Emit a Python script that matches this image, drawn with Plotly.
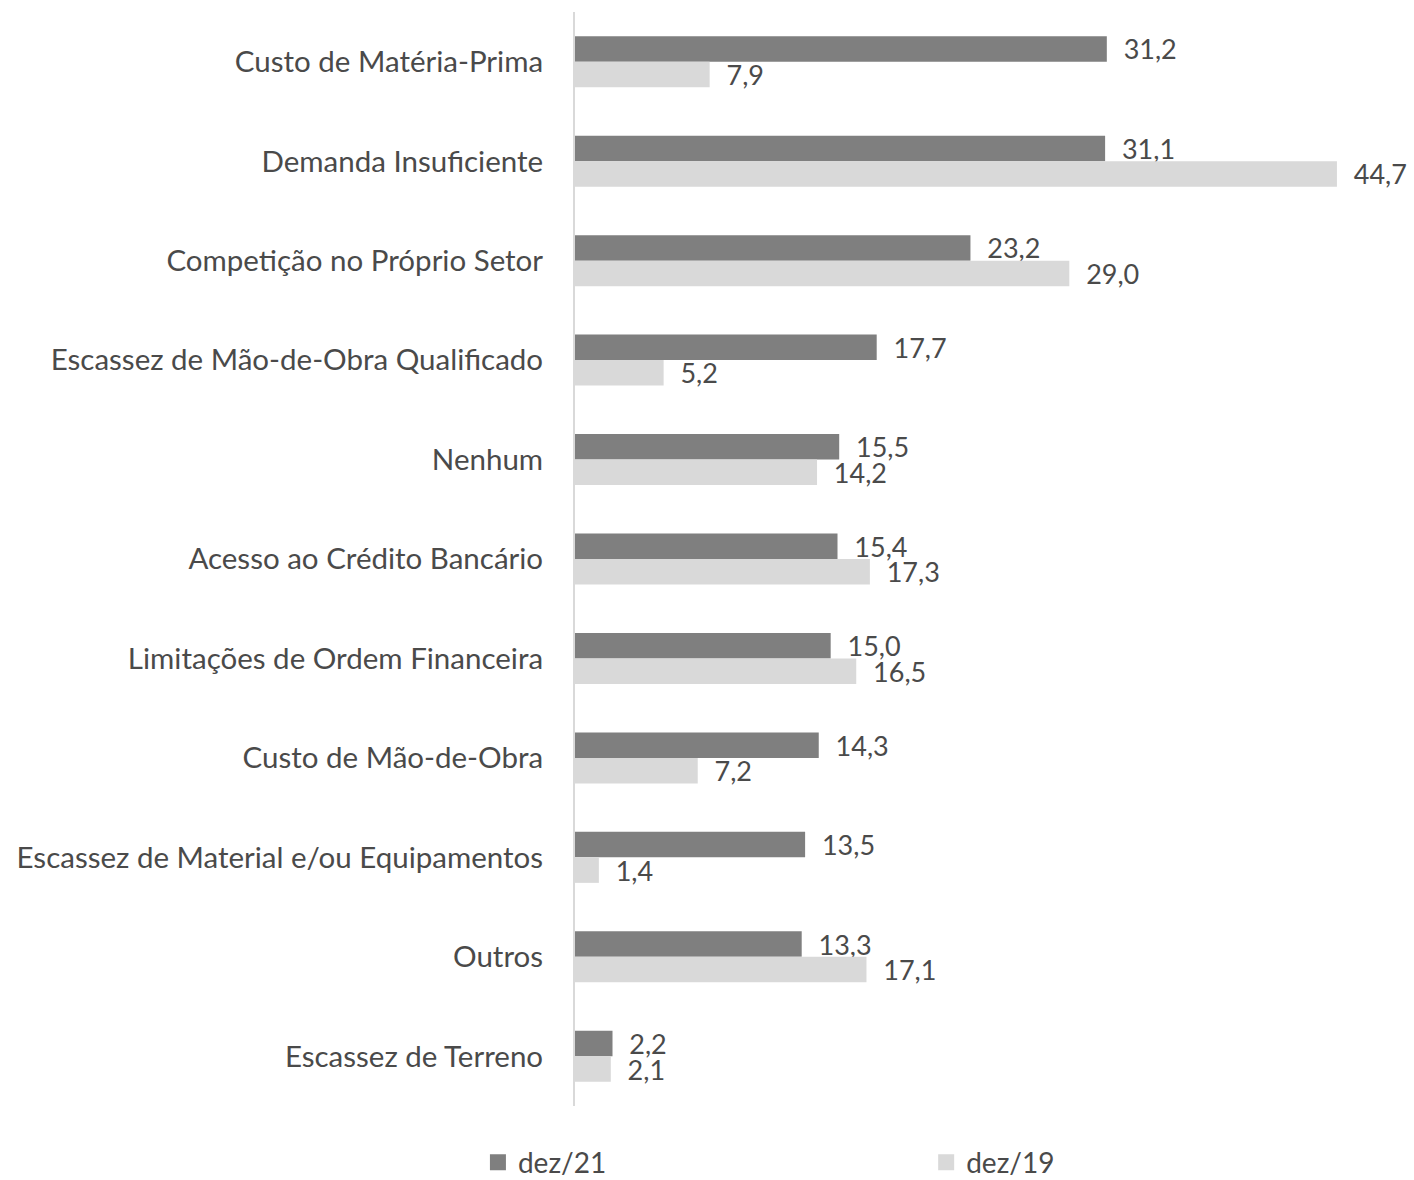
import plotly.graph_objects as go

categories = [
    "Custo de Matéria-Prima",
    "Demanda Insuficiente",
    "Competição no Próprio Setor",
    "Escassez de Mão-de-Obra Qualificado",
    "Nenhum",
    "Acesso ao Crédito Bancário",
    "Limitações de Ordem Financeira",
    "Custo de Mão-de-Obra",
    "Escassez de Material e/ou Equipamentos",
    "Outros",
    "Escassez de Terreno",
]
dez21 = [31.2, 31.1, 23.2, 17.7, 15.5, 15.4, 15.0, 14.3, 13.5, 13.3, 2.2]
dez19 = [7.9, 44.7, 29.0, 5.2, 14.2, 17.3, 16.5, 7.2, 1.4, 17.1, 2.1]
series_names = ["dez/21", "dez/19"]
series_colors = ["#7f7f7f", "#d9d9d9"]

FONT = "Lato, 'Open Sans', sans-serif"
TXT = "#4a4a4a"
FS = 29.5

fig = go.Figure()
for name, vals, col, lg in zip(series_names, [dez21, dez19], series_colors, ["legend", "legend2"]):
    fig.add_trace(go.Bar(
        y=categories, x=vals, name=name, orientation="h",
        marker_color=col, marker_line_width=0, showlegend=False,
        texttemplate="  %{x:.1f}", textposition="outside", constraintext="none",
        textfont=dict(size=27, color=TXT, family=FONT), cliponaxis=False,
    ))
    # legend-only entry with a larger square symbol
    fig.add_trace(go.Scatter(
        x=[None], y=[None], mode="markers", name=name, legend=lg,
        marker=dict(symbol="square", size=20, color=col),
    ))

legend_common = dict(
    orientation="h", xref="container", yref="container",
    xanchor="left", yanchor="top", y=0.036,
    font=dict(size=28, color=TXT, family=FONT), itemwidth=30,
    bgcolor="rgba(0,0,0,0)",
)

fig.update_layout(
    width=1414, height=1180,
    margin=dict(l=575, r=14, t=12, b=74, autoexpand=False),
    plot_bgcolor="white", paper_bgcolor="white",
    barmode="group", bargap=0.487, bargroupgap=0,
    separators=",.",
    font=dict(family=FONT, size=FS, color=TXT),
    showlegend=True,
    legend=dict(x=0.338, **legend_common),
    legend2=dict(x=0.655, **legend_common),
    uniformtext=dict(mode=False),
)
fig.update_xaxes(
    range=[0, 48.4], showgrid=False, zeroline=False, showticklabels=False,
    showline=False, ticks="", automargin=False,
)
fig.update_yaxes(
    autorange="reversed", showgrid=False, zeroline=False, automargin=False,
    showline=True, linecolor="#d9d9d9", linewidth=2, ticks="",
    ticklabelstandoff=24, tickfont=dict(size=FS, color=TXT, family=FONT),
)

fig.write_html(
    "out.html",
    config={"displayModeBar": False},
    post_script="document.body.style.margin='0';document.body.style.overflow='hidden';",
)
